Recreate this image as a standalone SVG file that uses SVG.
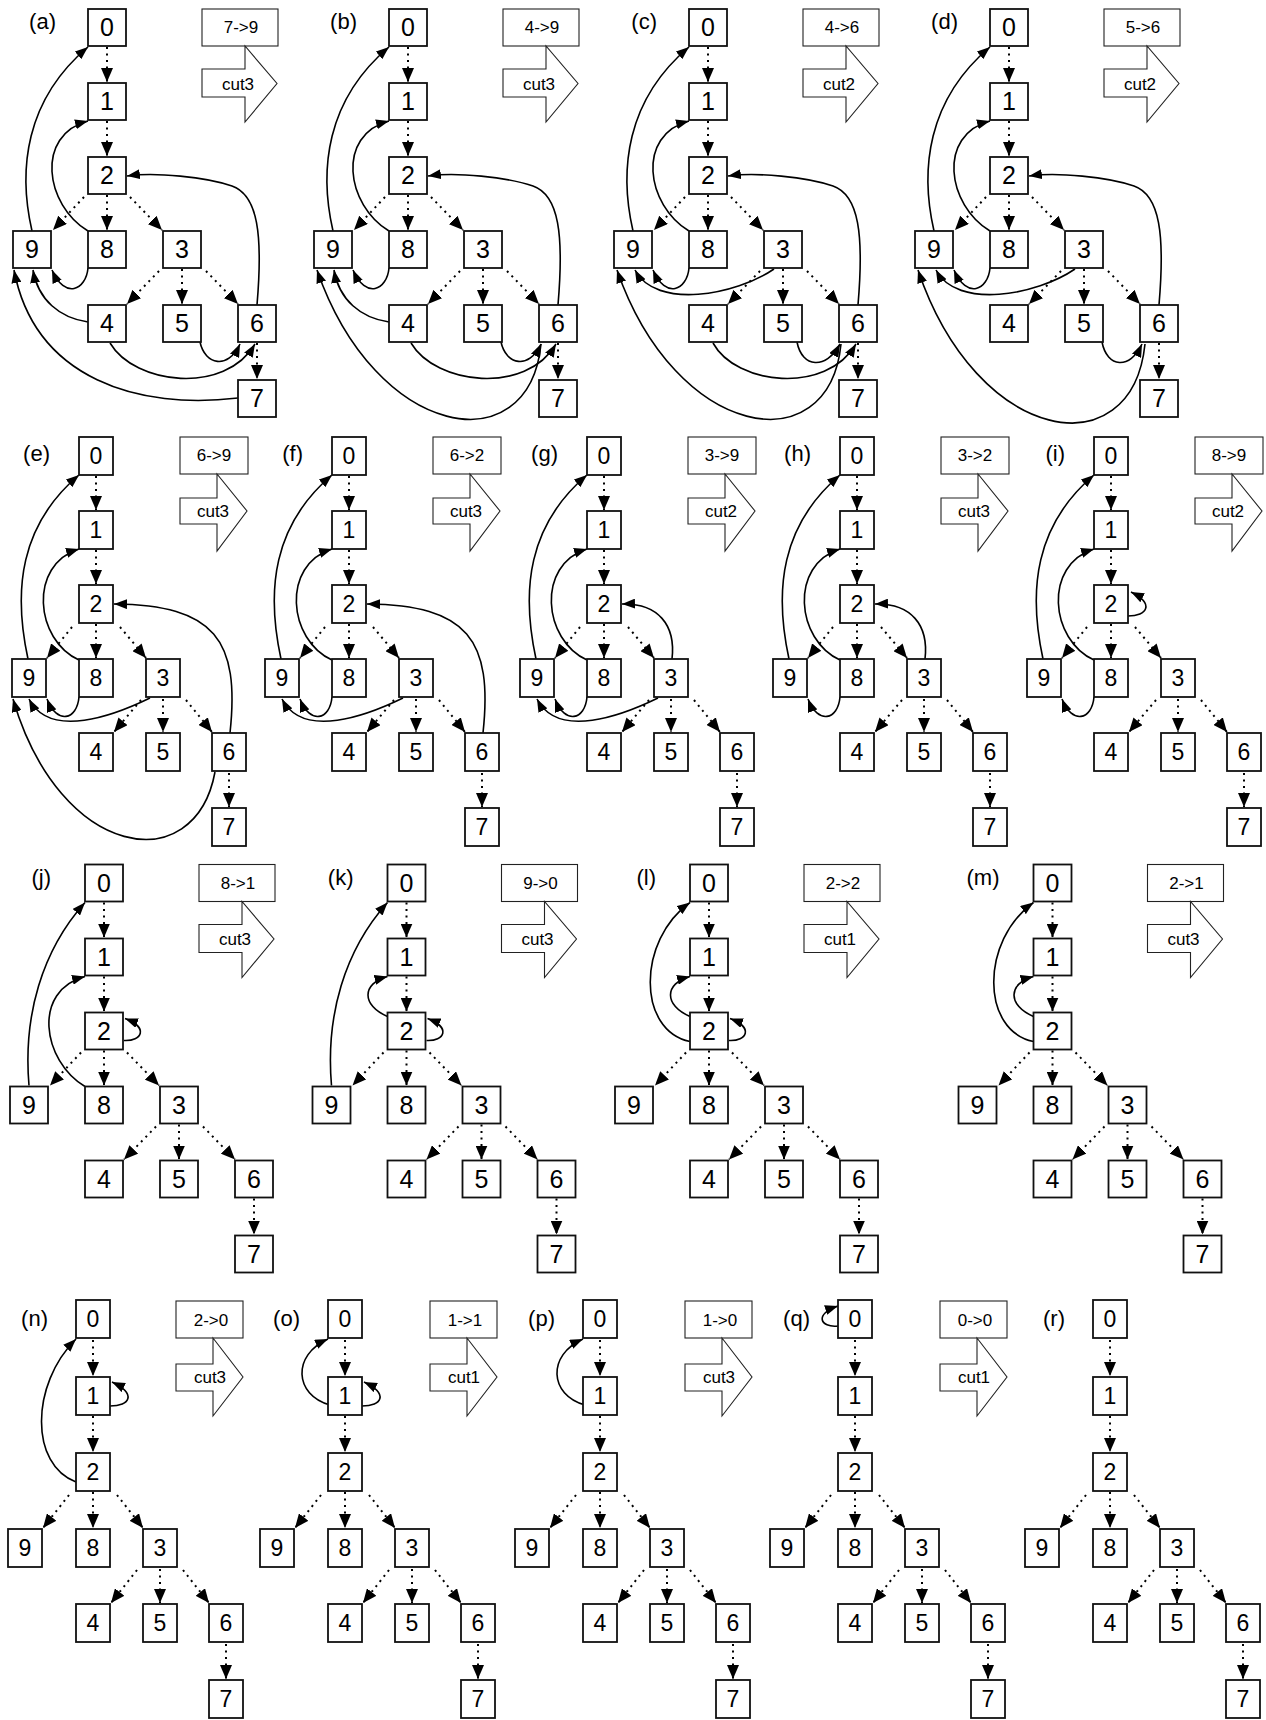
<svg xmlns="http://www.w3.org/2000/svg" width="1266" height="1720" viewBox="0 0 1266 1720">
<defs>
<marker id="ah" viewBox="0 0 13 10" refX="13" refY="5" markerWidth="13" markerHeight="10" markerUnits="userSpaceOnUse" orient="auto"><path d="M0,0 L13,5 L0,10 Z" fill="#000"/></marker>
<marker id="ad" viewBox="0 0 14 12" refX="14" refY="6" markerWidth="14" markerHeight="12" markerUnits="userSpaceOnUse" orient="auto"><path d="M0,0 L14,6 L0,12 Z" fill="#000"/></marker>
</defs>
<style>
.nd rect{fill:#fff;stroke:#111;stroke-width:1.8}
.nd text{font-family:"Liberation Sans",Arial,Helvetica,sans-serif;text-anchor:middle;fill:#000}
.w .nd text{font-size:25px}
.n .nd text{font-size:23px}
.pl{font-family:"Liberation Sans",Arial,Helvetica,sans-serif;font-size:22px;text-anchor:end;fill:#000}
.lb rect{fill:#fff;stroke:#222;stroke-width:1.1}
.lb text,.ct text{font-family:"Liberation Sans",Arial,Helvetica,sans-serif;font-size:17px;text-anchor:middle;fill:#000}
.ct path{fill:#fff;stroke:#222;stroke-width:1.1}
.t{fill:none;stroke:#000;stroke-width:2;stroke-dasharray:2 4.5;marker-end:url(#ad)}
.b{fill:none;stroke:#000;stroke-width:1.6;marker-end:url(#ah)}
</style>
<rect width="1266" height="1720" fill="#fff"/>

<!-- ===== ROW 1 ===== -->
<g id="panel-a" class="w" transform="translate(0,0)">
<text class="pl" x="56" y="29">(a)</text>
<g id="a-edges">
<path class="t" d="M107,47 L107,82"/><path class="t" d="M107,121 L107,156"/><path class="t" d="M107,195 L107,230"/><path class="t" d="M84,197 L53,230"/><path class="t" d="M130,197 L162,230"/><path class="t" d="M159,271 L127,304"/><path class="t" d="M182,269 L182,304"/><path class="t" d="M206,271 L238,304"/><path class="t" d="M257,343 L257,379"/>
<path class="b" d="M32,231 C18,170 25,100 88,47"/>
<path class="b" d="M88,231 C45,205 35,135 88,121"/>
<path class="b" d="M88,268 C86,290 65,300 52,270"/>
<path class="b" d="M257,305 C263,235 258,195 232,186 S155,172 127,176"/>
<path class="b" d="M88,322 C60,318 38,300 33,270"/>
<path class="b" d="M110,343 C135,385 225,395 255,344"/>
<path class="b" d="M200,342 C205,365 228,370 240,344"/>
<path class="b" d="M238,398 C140,410 35,380 14,270"/>
</g>
<g id="a0" class="nd"><rect x="88" y="9" width="38" height="37"/><text x="107" y="36">0</text></g>
<g id="a1" class="nd"><rect x="88" y="83" width="38" height="37"/><text x="107" y="110">1</text></g>
<g id="a2" class="nd"><rect x="88" y="157" width="38" height="37"/><text x="107" y="184">2</text></g>
<g id="a9" class="nd"><rect x="13" y="231" width="38" height="37"/><text x="32" y="258">9</text></g>
<g id="a8" class="nd"><rect x="88" y="231" width="38" height="37"/><text x="107" y="258">8</text></g>
<g id="a3" class="nd"><rect x="163" y="231" width="38" height="37"/><text x="182" y="258">3</text></g>
<g id="a4" class="nd"><rect x="88" y="305" width="38" height="37"/><text x="107" y="332">4</text></g>
<g id="a5" class="nd"><rect x="163" y="305" width="38" height="37"/><text x="182" y="332">5</text></g>
<g id="a6" class="nd"><rect x="238" y="305" width="38" height="37"/><text x="257" y="332">6</text></g>
<g id="a7" class="nd"><rect x="238" y="380" width="38" height="37"/><text x="257" y="407">7</text></g>
<g id="a-lbl" class="lb"><rect x="202" y="9" width="76" height="37"/><text x="241" y="33">7-&gt;9</text></g>
<g id="a-cut" class="ct"><path d="M202,69 H245 V46 L277,83.5 L245,122 V97 H202 Z"/><text x="238" y="89.5">cut3</text></g>
</g>

<g id="panel-b" class="w" transform="translate(301,0)">
<text class="pl" x="56" y="29">(b)</text>
<g id="b-edges">
<path class="t" d="M107,47 L107,82"/><path class="t" d="M107,121 L107,156"/><path class="t" d="M107,195 L107,230"/><path class="t" d="M84,197 L53,230"/><path class="t" d="M130,197 L162,230"/><path class="t" d="M159,271 L127,304"/><path class="t" d="M182,269 L182,304"/><path class="t" d="M206,271 L238,304"/><path class="t" d="M257,343 L257,379"/>
<path class="b" d="M32,231 C18,170 25,100 88,47"/>
<path class="b" d="M88,231 C45,205 35,135 88,121"/>
<path class="b" d="M88,268 C86,290 65,300 52,270"/>
<path class="b" d="M257,305 C263,235 258,195 232,186 S155,172 127,176"/>
<path class="b" d="M88,322 C60,318 38,300 33,270"/>
<path class="b" d="M110,343 C135,385 225,395 255,344"/>
<path class="b" d="M200,342 C205,365 228,370 240,344"/>
<path class="b" d="M240,344 C228,465 75,440 16,270"/>
</g>
<g id="b0" class="nd"><rect x="88" y="9" width="38" height="37"/><text x="107" y="36">0</text></g>
<g id="b1" class="nd"><rect x="88" y="83" width="38" height="37"/><text x="107" y="110">1</text></g>
<g id="b2" class="nd"><rect x="88" y="157" width="38" height="37"/><text x="107" y="184">2</text></g>
<g id="b9" class="nd"><rect x="13" y="231" width="38" height="37"/><text x="32" y="258">9</text></g>
<g id="b8" class="nd"><rect x="88" y="231" width="38" height="37"/><text x="107" y="258">8</text></g>
<g id="b3" class="nd"><rect x="163" y="231" width="38" height="37"/><text x="182" y="258">3</text></g>
<g id="b4" class="nd"><rect x="88" y="305" width="38" height="37"/><text x="107" y="332">4</text></g>
<g id="b5" class="nd"><rect x="163" y="305" width="38" height="37"/><text x="182" y="332">5</text></g>
<g id="b6" class="nd"><rect x="238" y="305" width="38" height="37"/><text x="257" y="332">6</text></g>
<g id="b7" class="nd"><rect x="238" y="380" width="38" height="37"/><text x="257" y="407">7</text></g>
<g id="b-lbl" class="lb"><rect x="202" y="9" width="76" height="37"/><text x="241" y="33">4-&gt;9</text></g>
<g id="b-cut" class="ct"><path d="M202,69 H245 V46 L277,83.5 L245,122 V97 H202 Z"/><text x="238" y="89.5">cut3</text></g>
</g>

<g id="panel-c" class="w" transform="translate(601,0)">
<text class="pl" x="56" y="29">(c)</text>
<g id="c-edges">
<path class="t" d="M107,47 L107,82"/><path class="t" d="M107,121 L107,156"/><path class="t" d="M107,195 L107,230"/><path class="t" d="M84,197 L53,230"/><path class="t" d="M130,197 L162,230"/><path class="t" d="M159,271 L127,304"/><path class="t" d="M182,269 L182,304"/><path class="t" d="M206,271 L238,304"/><path class="t" d="M257,343 L257,379"/>
<path class="b" d="M32,231 C18,170 25,100 88,47"/>
<path class="b" d="M88,231 C45,205 35,135 88,121"/>
<path class="b" d="M88,268 C86,290 65,300 52,270"/>
<path class="b" d="M257,305 C263,235 258,195 232,186 S155,172 127,176"/>
<path class="b" d="M173,269 C135,295 55,310 34,270"/>
<path class="b" d="M112,343 C135,385 225,395 255,344"/>
<path class="b" d="M196,342 C201,368 225,370 239,344"/>
<path class="b" d="M240,344 C228,465 75,440 16,270"/>
</g>
<g id="c0" class="nd"><rect x="88" y="9" width="38" height="37"/><text x="107" y="36">0</text></g>
<g id="c1" class="nd"><rect x="88" y="83" width="38" height="37"/><text x="107" y="110">1</text></g>
<g id="c2" class="nd"><rect x="88" y="157" width="38" height="37"/><text x="107" y="184">2</text></g>
<g id="c9" class="nd"><rect x="13" y="231" width="38" height="37"/><text x="32" y="258">9</text></g>
<g id="c8" class="nd"><rect x="88" y="231" width="38" height="37"/><text x="107" y="258">8</text></g>
<g id="c3" class="nd"><rect x="163" y="231" width="38" height="37"/><text x="182" y="258">3</text></g>
<g id="c4" class="nd"><rect x="88" y="305" width="38" height="37"/><text x="107" y="332">4</text></g>
<g id="c5" class="nd"><rect x="163" y="305" width="38" height="37"/><text x="182" y="332">5</text></g>
<g id="c6" class="nd"><rect x="238" y="305" width="38" height="37"/><text x="257" y="332">6</text></g>
<g id="c7" class="nd"><rect x="238" y="380" width="38" height="37"/><text x="257" y="407">7</text></g>
<g id="c-lbl" class="lb"><rect x="202" y="9" width="76" height="37"/><text x="241" y="33">4-&gt;6</text></g>
<g id="c-cut" class="ct"><path d="M202,69 H245 V46 L277,83.5 L245,122 V97 H202 Z"/><text x="238" y="89.5">cut2</text></g>
</g>

<g id="panel-d" class="w" transform="translate(902,0)">
<text class="pl" x="56" y="29">(d)</text>
<g id="d-edges">
<path class="t" d="M107,47 L107,82"/><path class="t" d="M107,121 L107,156"/><path class="t" d="M107,195 L107,230"/><path class="t" d="M84,197 L53,230"/><path class="t" d="M130,197 L162,230"/><path class="t" d="M159,271 L127,304"/><path class="t" d="M182,269 L182,304"/><path class="t" d="M206,271 L238,304"/><path class="t" d="M257,343 L257,379"/>
<path class="b" d="M32,231 C18,170 25,100 88,47"/>
<path class="b" d="M88,231 C45,205 35,135 88,121"/>
<path class="b" d="M88,268 C86,290 65,300 52,270"/>
<path class="b" d="M257,305 C263,235 258,195 232,186 S155,172 127,176"/>
<path class="b" d="M173,269 C135,295 55,310 34,270"/>
<path class="b" d="M200,342 C205,368 228,370 240,344"/>
<path class="b" d="M243,344 C230,470 75,445 16,270"/>
</g>
<g id="d0" class="nd"><rect x="88" y="9" width="38" height="37"/><text x="107" y="36">0</text></g>
<g id="d1" class="nd"><rect x="88" y="83" width="38" height="37"/><text x="107" y="110">1</text></g>
<g id="d2" class="nd"><rect x="88" y="157" width="38" height="37"/><text x="107" y="184">2</text></g>
<g id="d9" class="nd"><rect x="13" y="231" width="38" height="37"/><text x="32" y="258">9</text></g>
<g id="d8" class="nd"><rect x="88" y="231" width="38" height="37"/><text x="107" y="258">8</text></g>
<g id="d3" class="nd"><rect x="163" y="231" width="38" height="37"/><text x="182" y="258">3</text></g>
<g id="d4" class="nd"><rect x="88" y="305" width="38" height="37"/><text x="107" y="332">4</text></g>
<g id="d5" class="nd"><rect x="163" y="305" width="38" height="37"/><text x="182" y="332">5</text></g>
<g id="d6" class="nd"><rect x="238" y="305" width="38" height="37"/><text x="257" y="332">6</text></g>
<g id="d7" class="nd"><rect x="238" y="380" width="38" height="37"/><text x="257" y="407">7</text></g>
<g id="d-lbl" class="lb"><rect x="202" y="9" width="76" height="37"/><text x="241" y="33">5-&gt;6</text></g>
<g id="d-cut" class="ct"><path d="M202,69 H245 V46 L277,83.5 L245,122 V97 H202 Z"/><text x="238" y="89.5">cut2</text></g>
</g>

<!-- ===== ROW 2 ===== -->
<g id="panel-e" class="n" transform="translate(0,0)">
<text class="pl" x="50" y="461">(e)</text>
<g id="e-edges">
<path class="t" d="M96,476 L96,510"/><path class="t" d="M96,550 L96,584"/><path class="t" d="M96,624 L96,658"/><path class="t" d="M72,627 L47,658"/><path class="t" d="M120,627 L146,658"/><path class="t" d="M141,700 L114,732"/><path class="t" d="M163,699 L163,732"/><path class="t" d="M186,700 L212,732"/><path class="t" d="M229,773 L229,807"/>
<path class="b" d="M28,659 C13,590 20,525 79,475"/>
<path class="b" d="M79,660 C35,640 28,565 79,549"/>
<path class="b" d="M79,697 C77,720 57,725 47,699"/>
<path class="b" d="M150,698 C115,715 50,740 29,699"/>
<path class="b" d="M230,733 C240,640 215,605 114,604"/>
<path class="b" d="M215,772 C195,880 60,860 13,699"/>
</g>
<g id="e0" class="nd"><rect x="79" y="437" width="34" height="38"/><text x="96" y="464">0</text></g>
<g id="e1" class="nd"><rect x="79" y="511" width="34" height="38"/><text x="96" y="538">1</text></g>
<g id="e2" class="nd"><rect x="79" y="585" width="34" height="38"/><text x="96" y="612">2</text></g>
<g id="e9" class="nd"><rect x="12" y="659" width="34" height="38"/><text x="29" y="686">9</text></g>
<g id="e8" class="nd"><rect x="79" y="659" width="34" height="38"/><text x="96" y="686">8</text></g>
<g id="e3" class="nd"><rect x="146" y="659" width="34" height="38"/><text x="163" y="686">3</text></g>
<g id="e4" class="nd"><rect x="79" y="733" width="34" height="38"/><text x="96" y="760">4</text></g>
<g id="e5" class="nd"><rect x="146" y="733" width="34" height="38"/><text x="163" y="760">5</text></g>
<g id="e6" class="nd"><rect x="212" y="733" width="34" height="38"/><text x="229" y="760">6</text></g>
<g id="e7" class="nd"><rect x="212" y="808" width="34" height="38"/><text x="229" y="835">7</text></g>
<g id="e-lbl" class="lb"><rect x="180" y="437" width="68" height="37"/><text x="214" y="461">6-&gt;9</text></g>
<g id="e-cut" class="ct"><path d="M180,498 H217 V474 L247,511 L217,551 V524 H180 Z"/><text x="213" y="517">cut3</text></g>
</g>

<g id="panel-f" class="n" transform="translate(253,0)">
<text class="pl" x="50" y="461">(f)</text>
<g id="f-edges">
<path class="t" d="M96,476 L96,510"/><path class="t" d="M96,550 L96,584"/><path class="t" d="M96,624 L96,658"/><path class="t" d="M72,627 L47,658"/><path class="t" d="M120,627 L146,658"/><path class="t" d="M141,700 L114,732"/><path class="t" d="M163,699 L163,732"/><path class="t" d="M186,700 L212,732"/><path class="t" d="M229,773 L229,807"/>
<path class="b" d="M28,659 C13,590 20,525 79,475"/>
<path class="b" d="M79,660 C35,640 28,565 79,549"/>
<path class="b" d="M79,697 C77,720 57,725 47,699"/>
<path class="b" d="M150,698 C115,715 50,740 29,699"/>
<path class="b" d="M230,733 C240,640 215,605 114,604"/>
</g>
<g id="f0" class="nd"><rect x="79" y="437" width="34" height="38"/><text x="96" y="464">0</text></g>
<g id="f1" class="nd"><rect x="79" y="511" width="34" height="38"/><text x="96" y="538">1</text></g>
<g id="f2" class="nd"><rect x="79" y="585" width="34" height="38"/><text x="96" y="612">2</text></g>
<g id="f9" class="nd"><rect x="12" y="659" width="34" height="38"/><text x="29" y="686">9</text></g>
<g id="f8" class="nd"><rect x="79" y="659" width="34" height="38"/><text x="96" y="686">8</text></g>
<g id="f3" class="nd"><rect x="146" y="659" width="34" height="38"/><text x="163" y="686">3</text></g>
<g id="f4" class="nd"><rect x="79" y="733" width="34" height="38"/><text x="96" y="760">4</text></g>
<g id="f5" class="nd"><rect x="146" y="733" width="34" height="38"/><text x="163" y="760">5</text></g>
<g id="f6" class="nd"><rect x="212" y="733" width="34" height="38"/><text x="229" y="760">6</text></g>
<g id="f7" class="nd"><rect x="212" y="808" width="34" height="38"/><text x="229" y="835">7</text></g>
<g id="f-lbl" class="lb"><rect x="180" y="437" width="68" height="37"/><text x="214" y="461">6-&gt;2</text></g>
<g id="f-cut" class="ct"><path d="M180,498 H217 V474 L247,511 L217,551 V524 H180 Z"/><text x="213" y="517">cut3</text></g>
</g>

<g id="panel-g" class="n" transform="translate(508,0)">
<text class="pl" x="50" y="461">(g)</text>
<g id="g-edges">
<path class="t" d="M96,476 L96,510"/><path class="t" d="M96,550 L96,584"/><path class="t" d="M96,624 L96,658"/><path class="t" d="M72,627 L47,658"/><path class="t" d="M120,627 L146,658"/><path class="t" d="M141,700 L114,732"/><path class="t" d="M163,699 L163,732"/><path class="t" d="M186,700 L212,732"/><path class="t" d="M229,773 L229,807"/>
<path class="b" d="M28,659 C13,590 20,525 79,475"/>
<path class="b" d="M79,660 C35,640 28,565 79,549"/>
<path class="b" d="M79,697 C77,720 57,725 47,699"/>
<path class="b" d="M150,698 C115,715 50,740 29,699"/>
<path class="b" d="M164,659 C168,625 150,603 114,604"/>
</g>
<g id="g0" class="nd"><rect x="79" y="437" width="34" height="38"/><text x="96" y="464">0</text></g>
<g id="g1" class="nd"><rect x="79" y="511" width="34" height="38"/><text x="96" y="538">1</text></g>
<g id="g2" class="nd"><rect x="79" y="585" width="34" height="38"/><text x="96" y="612">2</text></g>
<g id="g9" class="nd"><rect x="12" y="659" width="34" height="38"/><text x="29" y="686">9</text></g>
<g id="g8" class="nd"><rect x="79" y="659" width="34" height="38"/><text x="96" y="686">8</text></g>
<g id="g3" class="nd"><rect x="146" y="659" width="34" height="38"/><text x="163" y="686">3</text></g>
<g id="g4" class="nd"><rect x="79" y="733" width="34" height="38"/><text x="96" y="760">4</text></g>
<g id="g5" class="nd"><rect x="146" y="733" width="34" height="38"/><text x="163" y="760">5</text></g>
<g id="g6" class="nd"><rect x="212" y="733" width="34" height="38"/><text x="229" y="760">6</text></g>
<g id="g7" class="nd"><rect x="212" y="808" width="34" height="38"/><text x="229" y="835">7</text></g>
<g id="g-lbl" class="lb"><rect x="180" y="437" width="68" height="37"/><text x="214" y="461">3-&gt;9</text></g>
<g id="g-cut" class="ct"><path d="M180,498 H217 V474 L247,511 L217,551 V524 H180 Z"/><text x="213" y="517">cut2</text></g>
</g>

<g id="panel-h" class="n" transform="translate(761,0)">
<text class="pl" x="50" y="461">(h)</text>
<g id="h-edges">
<path class="t" d="M96,476 L96,510"/><path class="t" d="M96,550 L96,584"/><path class="t" d="M96,624 L96,658"/><path class="t" d="M72,627 L47,658"/><path class="t" d="M120,627 L146,658"/><path class="t" d="M141,700 L114,732"/><path class="t" d="M163,699 L163,732"/><path class="t" d="M186,700 L212,732"/><path class="t" d="M229,773 L229,807"/>
<path class="b" d="M28,659 C13,590 20,525 79,475"/>
<path class="b" d="M79,660 C35,640 28,565 79,549"/>
<path class="b" d="M79,697 C77,720 57,725 47,699"/>
<path class="b" d="M164,659 C168,625 150,603 114,604"/>
</g>
<g id="h0" class="nd"><rect x="79" y="437" width="34" height="38"/><text x="96" y="464">0</text></g>
<g id="h1" class="nd"><rect x="79" y="511" width="34" height="38"/><text x="96" y="538">1</text></g>
<g id="h2" class="nd"><rect x="79" y="585" width="34" height="38"/><text x="96" y="612">2</text></g>
<g id="h9" class="nd"><rect x="12" y="659" width="34" height="38"/><text x="29" y="686">9</text></g>
<g id="h8" class="nd"><rect x="79" y="659" width="34" height="38"/><text x="96" y="686">8</text></g>
<g id="h3" class="nd"><rect x="146" y="659" width="34" height="38"/><text x="163" y="686">3</text></g>
<g id="h4" class="nd"><rect x="79" y="733" width="34" height="38"/><text x="96" y="760">4</text></g>
<g id="h5" class="nd"><rect x="146" y="733" width="34" height="38"/><text x="163" y="760">5</text></g>
<g id="h6" class="nd"><rect x="212" y="733" width="34" height="38"/><text x="229" y="760">6</text></g>
<g id="h7" class="nd"><rect x="212" y="808" width="34" height="38"/><text x="229" y="835">7</text></g>
<g id="h-lbl" class="lb"><rect x="180" y="437" width="68" height="37"/><text x="214" y="461">3-&gt;2</text></g>
<g id="h-cut" class="ct"><path d="M180,498 H217 V474 L247,511 L217,551 V524 H180 Z"/><text x="213" y="517">cut3</text></g>
</g>

<g id="panel-i" class="n" transform="translate(1015,0)">
<text class="pl" x="50" y="461">(i)</text>
<g id="i-edges">
<path class="t" d="M96,476 L96,510"/><path class="t" d="M96,550 L96,584"/><path class="t" d="M96,624 L96,658"/><path class="t" d="M72,627 L47,658"/><path class="t" d="M120,627 L146,658"/><path class="t" d="M141,700 L114,732"/><path class="t" d="M163,699 L163,732"/><path class="t" d="M186,700 L212,732"/><path class="t" d="M229,773 L229,807"/>
<path class="b" d="M28,659 C13,590 20,525 79,475"/>
<path class="b" d="M79,660 C35,640 28,565 79,549"/>
<path class="b" d="M79,697 C77,720 57,725 47,699"/>
<path class="b" d="M113,616 C132,616 140,604 116,592"/>
</g>
<g id="i0" class="nd"><rect x="79" y="437" width="34" height="38"/><text x="96" y="464">0</text></g>
<g id="i1" class="nd"><rect x="79" y="511" width="34" height="38"/><text x="96" y="538">1</text></g>
<g id="i2" class="nd"><rect x="79" y="585" width="34" height="38"/><text x="96" y="612">2</text></g>
<g id="i9" class="nd"><rect x="12" y="659" width="34" height="38"/><text x="29" y="686">9</text></g>
<g id="i8" class="nd"><rect x="79" y="659" width="34" height="38"/><text x="96" y="686">8</text></g>
<g id="i3" class="nd"><rect x="146" y="659" width="34" height="38"/><text x="163" y="686">3</text></g>
<g id="i4" class="nd"><rect x="79" y="733" width="34" height="38"/><text x="96" y="760">4</text></g>
<g id="i5" class="nd"><rect x="146" y="733" width="34" height="38"/><text x="163" y="760">5</text></g>
<g id="i6" class="nd"><rect x="212" y="733" width="34" height="38"/><text x="229" y="760">6</text></g>
<g id="i7" class="nd"><rect x="212" y="808" width="34" height="38"/><text x="229" y="835">7</text></g>
<g id="i-lbl" class="lb"><rect x="180" y="437" width="68" height="37"/><text x="214" y="461">8-&gt;9</text></g>
<g id="i-cut" class="ct"><path d="M180,498 H217 V474 L247,511 L217,551 V524 H180 Z"/><text x="213" y="517">cut2</text></g>
</g>

<!-- ===== ROW 3 ===== -->
<g id="panel-j" class="w" transform="translate(-3,855.5)">
<text class="pl" x="54" y="29">(j)</text>
<g id="j-edges">
<path class="t" d="M107,47 L107,82"/><path class="t" d="M107,121 L107,156"/><path class="t" d="M107,195 L107,230"/><path class="t" d="M84,197 L53,230"/><path class="t" d="M130,197 L162,230"/><path class="t" d="M159,271 L127,304"/><path class="t" d="M182,269 L182,304"/><path class="t" d="M206,271 L238,304"/><path class="t" d="M257,343 L257,379"/>
<path class="b" d="M32,230 C26,160 45,95 88,47"/>
<path class="b" d="M88,231 C45,205 35,135 88,121"/>
<path class="b" d="M127,185 C145,186 152,172 128,163"/>
</g>
<g id="j0" class="nd"><rect x="88" y="9" width="38" height="37"/><text x="107" y="36">0</text></g>
<g id="j1" class="nd"><rect x="88" y="83" width="38" height="37"/><text x="107" y="110">1</text></g>
<g id="j2" class="nd"><rect x="88" y="157" width="38" height="37"/><text x="107" y="184">2</text></g>
<g id="j9" class="nd"><rect x="13" y="231" width="38" height="37"/><text x="32" y="258">9</text></g>
<g id="j8" class="nd"><rect x="88" y="231" width="38" height="37"/><text x="107" y="258">8</text></g>
<g id="j3" class="nd"><rect x="163" y="231" width="38" height="37"/><text x="182" y="258">3</text></g>
<g id="j4" class="nd"><rect x="88" y="305" width="38" height="37"/><text x="107" y="332">4</text></g>
<g id="j5" class="nd"><rect x="163" y="305" width="38" height="37"/><text x="182" y="332">5</text></g>
<g id="j6" class="nd"><rect x="238" y="305" width="38" height="37"/><text x="257" y="332">6</text></g>
<g id="j7" class="nd"><rect x="238" y="380" width="38" height="37"/><text x="257" y="407">7</text></g>
<g id="j-lbl" class="lb"><rect x="202" y="9" width="76" height="37"/><text x="241" y="33">8-&gt;1</text></g>
<g id="j-cut" class="ct"><path d="M202,69 H245 V46 L277,83.5 L245,122 V97 H202 Z"/><text x="238" y="89.5">cut3</text></g>
</g>

<g id="panel-k" class="w" transform="translate(299.5,855.5)">
<text class="pl" x="54" y="29">(k)</text>
<g id="k-edges">
<path class="t" d="M107,47 L107,82"/><path class="t" d="M107,121 L107,156"/><path class="t" d="M107,195 L107,230"/><path class="t" d="M84,197 L53,230"/><path class="t" d="M130,197 L162,230"/><path class="t" d="M159,271 L127,304"/><path class="t" d="M182,269 L182,304"/><path class="t" d="M206,271 L238,304"/><path class="t" d="M257,343 L257,379"/>
<path class="b" d="M32,230 C26,160 45,95 88,47"/>
<path class="b" d="M88,161 C62,150 62,128 88,121"/>
<path class="b" d="M127,185 C145,186 152,172 128,163"/>
</g>
<g id="k0" class="nd"><rect x="88" y="9" width="38" height="37"/><text x="107" y="36">0</text></g>
<g id="k1" class="nd"><rect x="88" y="83" width="38" height="37"/><text x="107" y="110">1</text></g>
<g id="k2" class="nd"><rect x="88" y="157" width="38" height="37"/><text x="107" y="184">2</text></g>
<g id="k9" class="nd"><rect x="13" y="231" width="38" height="37"/><text x="32" y="258">9</text></g>
<g id="k8" class="nd"><rect x="88" y="231" width="38" height="37"/><text x="107" y="258">8</text></g>
<g id="k3" class="nd"><rect x="163" y="231" width="38" height="37"/><text x="182" y="258">3</text></g>
<g id="k4" class="nd"><rect x="88" y="305" width="38" height="37"/><text x="107" y="332">4</text></g>
<g id="k5" class="nd"><rect x="163" y="305" width="38" height="37"/><text x="182" y="332">5</text></g>
<g id="k6" class="nd"><rect x="238" y="305" width="38" height="37"/><text x="257" y="332">6</text></g>
<g id="k7" class="nd"><rect x="238" y="380" width="38" height="37"/><text x="257" y="407">7</text></g>
<g id="k-lbl" class="lb"><rect x="202" y="9" width="76" height="37"/><text x="241" y="33">9-&gt;0</text></g>
<g id="k-cut" class="ct"><path d="M202,69 H245 V46 L277,83.5 L245,122 V97 H202 Z"/><text x="238" y="89.5">cut3</text></g>
</g>

<g id="panel-l" class="w" transform="translate(602,855.5)">
<text class="pl" x="54" y="29">(l)</text>
<g id="l-edges">
<path class="t" d="M107,47 L107,82"/><path class="t" d="M107,121 L107,156"/><path class="t" d="M107,195 L107,230"/><path class="t" d="M84,197 L53,230"/><path class="t" d="M130,197 L162,230"/><path class="t" d="M159,271 L127,304"/><path class="t" d="M182,269 L182,304"/><path class="t" d="M206,271 L238,304"/><path class="t" d="M257,343 L257,379"/>
<path class="b" d="M88,186 C35,175 35,85 88,47"/>
<path class="b" d="M88,161 C62,150 62,128 88,121"/>
<path class="b" d="M127,185 C145,186 152,172 128,163"/>
</g>
<g id="l0" class="nd"><rect x="88" y="9" width="38" height="37"/><text x="107" y="36">0</text></g>
<g id="l1" class="nd"><rect x="88" y="83" width="38" height="37"/><text x="107" y="110">1</text></g>
<g id="l2" class="nd"><rect x="88" y="157" width="38" height="37"/><text x="107" y="184">2</text></g>
<g id="l9" class="nd"><rect x="13" y="231" width="38" height="37"/><text x="32" y="258">9</text></g>
<g id="l8" class="nd"><rect x="88" y="231" width="38" height="37"/><text x="107" y="258">8</text></g>
<g id="l3" class="nd"><rect x="163" y="231" width="38" height="37"/><text x="182" y="258">3</text></g>
<g id="l4" class="nd"><rect x="88" y="305" width="38" height="37"/><text x="107" y="332">4</text></g>
<g id="l5" class="nd"><rect x="163" y="305" width="38" height="37"/><text x="182" y="332">5</text></g>
<g id="l6" class="nd"><rect x="238" y="305" width="38" height="37"/><text x="257" y="332">6</text></g>
<g id="l7" class="nd"><rect x="238" y="380" width="38" height="37"/><text x="257" y="407">7</text></g>
<g id="l-lbl" class="lb"><rect x="202" y="9" width="76" height="37"/><text x="241" y="33">2-&gt;2</text></g>
<g id="l-cut" class="ct"><path d="M202,69 H245 V46 L277,83.5 L245,122 V97 H202 Z"/><text x="238" y="89.5">cut1</text></g>
</g>

<g id="panel-m" class="w" transform="translate(945.5,855.5)">
<text class="pl" x="54" y="29">(m)</text>
<g id="m-edges">
<path class="t" d="M107,47 L107,82"/><path class="t" d="M107,121 L107,156"/><path class="t" d="M107,195 L107,230"/><path class="t" d="M84,197 L53,230"/><path class="t" d="M130,197 L162,230"/><path class="t" d="M159,271 L127,304"/><path class="t" d="M182,269 L182,304"/><path class="t" d="M206,271 L238,304"/><path class="t" d="M257,343 L257,379"/>
<path class="b" d="M88,186 C35,175 35,85 88,47"/>
<path class="b" d="M88,161 C62,150 62,128 88,121"/>
</g>
<g id="m0" class="nd"><rect x="88" y="9" width="38" height="37"/><text x="107" y="36">0</text></g>
<g id="m1" class="nd"><rect x="88" y="83" width="38" height="37"/><text x="107" y="110">1</text></g>
<g id="m2" class="nd"><rect x="88" y="157" width="38" height="37"/><text x="107" y="184">2</text></g>
<g id="m9" class="nd"><rect x="13" y="231" width="38" height="37"/><text x="32" y="258">9</text></g>
<g id="m8" class="nd"><rect x="88" y="231" width="38" height="37"/><text x="107" y="258">8</text></g>
<g id="m3" class="nd"><rect x="163" y="231" width="38" height="37"/><text x="182" y="258">3</text></g>
<g id="m4" class="nd"><rect x="88" y="305" width="38" height="37"/><text x="107" y="332">4</text></g>
<g id="m5" class="nd"><rect x="163" y="305" width="38" height="37"/><text x="182" y="332">5</text></g>
<g id="m6" class="nd"><rect x="238" y="305" width="38" height="37"/><text x="257" y="332">6</text></g>
<g id="m7" class="nd"><rect x="238" y="380" width="38" height="37"/><text x="257" y="407">7</text></g>
<g id="m-lbl" class="lb"><rect x="202" y="9" width="76" height="37"/><text x="241" y="33">2-&gt;1</text></g>
<g id="m-cut" class="ct"><path d="M202,69 H245 V46 L277,83.5 L245,122 V97 H202 Z"/><text x="238" y="89.5">cut3</text></g>
</g>

<!-- ===== ROW 4 ===== -->
<g id="panel-n" class="n" transform="translate(0,0)">
<text class="pl" x="48" y="1326">(n)</text>
<g id="n-edges">
<path class="t" d="M93,1340 L93,1376"/><path class="t" d="M93,1416 L93,1452"/><path class="t" d="M93,1492 L93,1528"/><path class="t" d="M69,1495 L43,1528"/><path class="t" d="M117,1495 L143,1528"/><path class="t" d="M137,1570 L111,1603"/><path class="t" d="M160,1569 L160,1603"/><path class="t" d="M183,1570 L209,1603"/><path class="t" d="M226,1644 L226,1679"/>
<path class="b" d="M76,1482 C30,1465 30,1385 76,1339"/>
<path class="b" d="M110,1406 C130,1406 137,1394 112,1382"/>
</g>
<g id="n0" class="nd"><rect x="76" y="1300" width="34" height="38"/><text x="93" y="1327">0</text></g>
<g id="n1" class="nd"><rect x="76" y="1377" width="34" height="38"/><text x="93" y="1404">1</text></g>
<g id="n2" class="nd"><rect x="76" y="1453" width="34" height="38"/><text x="93" y="1480">2</text></g>
<g id="n9" class="nd"><rect x="8" y="1529" width="34" height="38"/><text x="25" y="1556">9</text></g>
<g id="n8" class="nd"><rect x="76" y="1529" width="34" height="38"/><text x="93" y="1556">8</text></g>
<g id="n3" class="nd"><rect x="143" y="1529" width="34" height="38"/><text x="160" y="1556">3</text></g>
<g id="n4" class="nd"><rect x="76" y="1604" width="34" height="38"/><text x="93" y="1631">4</text></g>
<g id="n5" class="nd"><rect x="143" y="1604" width="34" height="38"/><text x="160" y="1631">5</text></g>
<g id="n6" class="nd"><rect x="209" y="1604" width="34" height="38"/><text x="226" y="1631">6</text></g>
<g id="n7" class="nd"><rect x="209" y="1680" width="34" height="38"/><text x="226" y="1707">7</text></g>
<g id="n-lbl" class="lb"><rect x="176" y="1301" width="67" height="37"/><text x="211" y="1326">2-&gt;0</text></g>
<g id="n-cut" class="ct"><path d="M176,1364 H213 V1338 L243,1377 L213,1416 V1391 H176 Z"/><text x="210" y="1383">cut3</text></g>
</g>

<g id="panel-o" class="n" transform="translate(252,0)">
<text class="pl" x="48" y="1326">(o)</text>
<g id="o-edges">
<path class="t" d="M93,1340 L93,1376"/><path class="t" d="M93,1416 L93,1452"/><path class="t" d="M93,1492 L93,1528"/><path class="t" d="M69,1495 L43,1528"/><path class="t" d="M117,1495 L143,1528"/><path class="t" d="M137,1570 L111,1603"/><path class="t" d="M160,1569 L160,1603"/><path class="t" d="M183,1570 L209,1603"/><path class="t" d="M226,1644 L226,1679"/>
<path class="b" d="M78,1405 C42,1395 40,1355 76,1339"/>
<path class="b" d="M110,1406 C130,1406 137,1394 112,1382"/>
</g>
<g id="o0" class="nd"><rect x="76" y="1300" width="34" height="38"/><text x="93" y="1327">0</text></g>
<g id="o1" class="nd"><rect x="76" y="1377" width="34" height="38"/><text x="93" y="1404">1</text></g>
<g id="o2" class="nd"><rect x="76" y="1453" width="34" height="38"/><text x="93" y="1480">2</text></g>
<g id="o9" class="nd"><rect x="8" y="1529" width="34" height="38"/><text x="25" y="1556">9</text></g>
<g id="o8" class="nd"><rect x="76" y="1529" width="34" height="38"/><text x="93" y="1556">8</text></g>
<g id="o3" class="nd"><rect x="143" y="1529" width="34" height="38"/><text x="160" y="1556">3</text></g>
<g id="o4" class="nd"><rect x="76" y="1604" width="34" height="38"/><text x="93" y="1631">4</text></g>
<g id="o5" class="nd"><rect x="143" y="1604" width="34" height="38"/><text x="160" y="1631">5</text></g>
<g id="o6" class="nd"><rect x="209" y="1604" width="34" height="38"/><text x="226" y="1631">6</text></g>
<g id="o7" class="nd"><rect x="209" y="1680" width="34" height="38"/><text x="226" y="1707">7</text></g>
<g id="o-lbl" class="lb"><rect x="178" y="1301" width="67" height="37"/><text x="213" y="1326">1-&gt;1</text></g>
<g id="o-cut" class="ct"><path d="M178,1364 H215 V1338 L245,1377 L215,1416 V1391 H178 Z"/><text x="212" y="1383">cut1</text></g>
</g>

<g id="panel-p" class="n" transform="translate(507,0)">
<text class="pl" x="48" y="1326">(p)</text>
<g id="p-edges">
<path class="t" d="M93,1340 L93,1376"/><path class="t" d="M93,1416 L93,1452"/><path class="t" d="M93,1492 L93,1528"/><path class="t" d="M69,1495 L43,1528"/><path class="t" d="M117,1495 L143,1528"/><path class="t" d="M137,1570 L111,1603"/><path class="t" d="M160,1569 L160,1603"/><path class="t" d="M183,1570 L209,1603"/><path class="t" d="M226,1644 L226,1679"/>
<path class="b" d="M78,1405 C42,1395 40,1355 76,1339"/>
</g>
<g id="p0" class="nd"><rect x="76" y="1300" width="34" height="38"/><text x="93" y="1327">0</text></g>
<g id="p1" class="nd"><rect x="76" y="1377" width="34" height="38"/><text x="93" y="1404">1</text></g>
<g id="p2" class="nd"><rect x="76" y="1453" width="34" height="38"/><text x="93" y="1480">2</text></g>
<g id="p9" class="nd"><rect x="8" y="1529" width="34" height="38"/><text x="25" y="1556">9</text></g>
<g id="p8" class="nd"><rect x="76" y="1529" width="34" height="38"/><text x="93" y="1556">8</text></g>
<g id="p3" class="nd"><rect x="143" y="1529" width="34" height="38"/><text x="160" y="1556">3</text></g>
<g id="p4" class="nd"><rect x="76" y="1604" width="34" height="38"/><text x="93" y="1631">4</text></g>
<g id="p5" class="nd"><rect x="143" y="1604" width="34" height="38"/><text x="160" y="1631">5</text></g>
<g id="p6" class="nd"><rect x="209" y="1604" width="34" height="38"/><text x="226" y="1631">6</text></g>
<g id="p7" class="nd"><rect x="209" y="1680" width="34" height="38"/><text x="226" y="1707">7</text></g>
<g id="p-lbl" class="lb"><rect x="178" y="1301" width="67" height="37"/><text x="213" y="1326">1-&gt;0</text></g>
<g id="p-cut" class="ct"><path d="M178,1364 H215 V1338 L245,1377 L215,1416 V1391 H178 Z"/><text x="212" y="1383">cut3</text></g>
</g>

<g id="panel-q" class="n" transform="translate(762,0)">
<text class="pl" x="48" y="1326">(q)</text>
<g id="q-edges">
<path class="t" d="M93,1340 L93,1376"/><path class="t" d="M93,1416 L93,1452"/><path class="t" d="M93,1492 L93,1528"/><path class="t" d="M69,1495 L43,1528"/><path class="t" d="M117,1495 L143,1528"/><path class="t" d="M137,1570 L111,1603"/><path class="t" d="M160,1569 L160,1603"/><path class="t" d="M183,1570 L209,1603"/><path class="t" d="M226,1644 L226,1679"/>
<path class="b" d="M76,1326 C58,1328 52,1314 76,1306"/>
</g>
<g id="q0" class="nd"><rect x="76" y="1300" width="34" height="38"/><text x="93" y="1327">0</text></g>
<g id="q1" class="nd"><rect x="76" y="1377" width="34" height="38"/><text x="93" y="1404">1</text></g>
<g id="q2" class="nd"><rect x="76" y="1453" width="34" height="38"/><text x="93" y="1480">2</text></g>
<g id="q9" class="nd"><rect x="8" y="1529" width="34" height="38"/><text x="25" y="1556">9</text></g>
<g id="q8" class="nd"><rect x="76" y="1529" width="34" height="38"/><text x="93" y="1556">8</text></g>
<g id="q3" class="nd"><rect x="143" y="1529" width="34" height="38"/><text x="160" y="1556">3</text></g>
<g id="q4" class="nd"><rect x="76" y="1604" width="34" height="38"/><text x="93" y="1631">4</text></g>
<g id="q5" class="nd"><rect x="143" y="1604" width="34" height="38"/><text x="160" y="1631">5</text></g>
<g id="q6" class="nd"><rect x="209" y="1604" width="34" height="38"/><text x="226" y="1631">6</text></g>
<g id="q7" class="nd"><rect x="209" y="1680" width="34" height="38"/><text x="226" y="1707">7</text></g>
<g id="q-lbl" class="lb"><rect x="178" y="1301" width="67" height="37"/><text x="213" y="1326">0-&gt;0</text></g>
<g id="q-cut" class="ct"><path d="M178,1364 H215 V1338 L245,1377 L215,1416 V1391 H178 Z"/><text x="212" y="1383">cut1</text></g>
</g>

<g id="panel-r" class="n" transform="translate(1017,0)">
<text class="pl" x="48" y="1326">(r)</text>
<g id="r-edges">
<path class="t" d="M93,1340 L93,1376"/><path class="t" d="M93,1416 L93,1452"/><path class="t" d="M93,1492 L93,1528"/><path class="t" d="M69,1495 L43,1528"/><path class="t" d="M117,1495 L143,1528"/><path class="t" d="M137,1570 L111,1603"/><path class="t" d="M160,1569 L160,1603"/><path class="t" d="M183,1570 L209,1603"/><path class="t" d="M226,1644 L226,1679"/>
</g>
<g id="r0" class="nd"><rect x="76" y="1300" width="34" height="38"/><text x="93" y="1327">0</text></g>
<g id="r1" class="nd"><rect x="76" y="1377" width="34" height="38"/><text x="93" y="1404">1</text></g>
<g id="r2" class="nd"><rect x="76" y="1453" width="34" height="38"/><text x="93" y="1480">2</text></g>
<g id="r9" class="nd"><rect x="8" y="1529" width="34" height="38"/><text x="25" y="1556">9</text></g>
<g id="r8" class="nd"><rect x="76" y="1529" width="34" height="38"/><text x="93" y="1556">8</text></g>
<g id="r3" class="nd"><rect x="143" y="1529" width="34" height="38"/><text x="160" y="1556">3</text></g>
<g id="r4" class="nd"><rect x="76" y="1604" width="34" height="38"/><text x="93" y="1631">4</text></g>
<g id="r5" class="nd"><rect x="143" y="1604" width="34" height="38"/><text x="160" y="1631">5</text></g>
<g id="r6" class="nd"><rect x="209" y="1604" width="34" height="38"/><text x="226" y="1631">6</text></g>
<g id="r7" class="nd"><rect x="209" y="1680" width="34" height="38"/><text x="226" y="1707">7</text></g>
</g>
</svg>
